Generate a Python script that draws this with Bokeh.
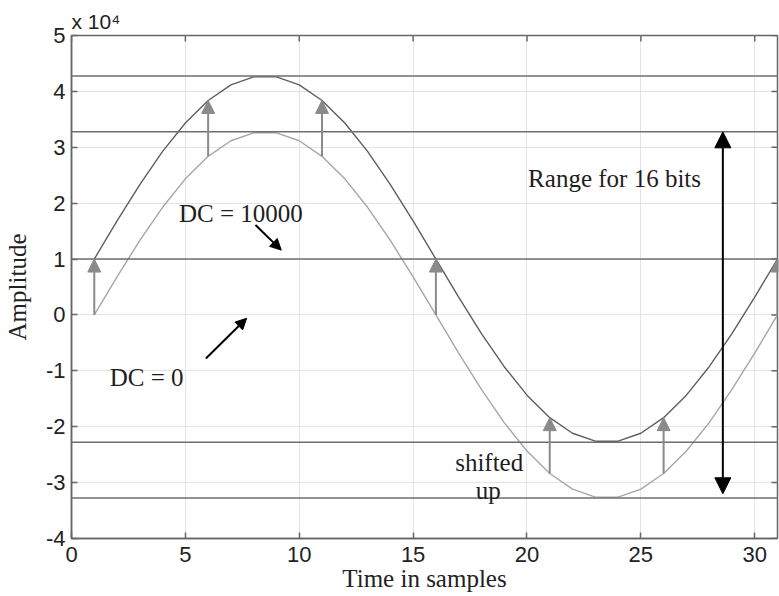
import math
from bokeh.plotting import figure
from bokeh.models import (Range1d, Span, Arrow, NormalHead, Label, FixedTicker,
                          ColumnDataSource)
from bokeh.embed import file_html
from bokeh.resources import INLINE

# ---------------- data ----------------
samples = list(range(1, 32))
dc0 = [0, 6813, 13328, 19260, 24351, 28377, 31163, 32588, 32588, 31163, 28377,
       24351, 19260, 13328, 6813, 0, -6813, -13328, -19260, -24351, -28377,
       -31163, -32588, -32588, -31163, -28377, -24351, -19260, -13328, -6813, 0]
dc10000 = [10000, 16813, 23328, 29260, 34351, 38377, 41163, 42588, 42588, 41163,
           38377, 34351, 29260, 23328, 16813, 10000, 3187, -3328, -9260, -14351,
           -18377, -21163, -22588, -22588, -21163, -18377, -14351, -9260, -3328,
           3187, 10000]
levels = [42767, 32767, 10000, -22768, -32768]
shift_x = [1, 6, 11, 16, 21, 26, 31]
shift_from = [0, 28377, 28377, 0, -28377, -28377, 0]
shift_to = [10000, 38377, 38377, 10000, -18377, -18377, 10000]
x_ticks = [0, 5, 10, 15, 20, 25, 30]
y_ticks = [-40000, -30000, -20000, -10000, 0, 10000, 20000, 30000, 40000, 50000]
y_tick_labels = ["-4", "-3", "-2", "-1", "0", "1", "2", "3", "4", "5"]
x_lo, x_hi = 0, 31
y_lo, y_hi = -40000, 50000

SERIF = "Liberation Serif"
SANS = "Liberation Sans"

p = figure(width=779, height=596, x_range=Range1d(x_lo, x_hi),
           y_range=Range1d(y_lo, y_hi), output_backend="svg",
           toolbar_location=None, min_border_left=67, min_border_right=2,
           min_border_top=35, min_border_bottom=58)
p.background_fill_color = "white"
p.border_fill_color = "white"
p.outline_line_color = "#666666"
p.outline_line_width = 1.5

# title used as the exponent marker
p.title.text = "x 10\u2074"
p.title.text_font = SANS
p.title.text_font_size = "21px"
p.title.text_font_style = "normal"
p.title.text_color = "#222222"
p.title.align = "left"
p.title.offset = 0
p.title.standoff = 5

# axes
for ax in (p.xaxis[0], p.yaxis[0]):
    ax.major_tick_in = 6
    ax.major_tick_out = 0
    ax.minor_tick_line_color = None
    ax.axis_line_color = "#666666"
    ax.axis_line_width = 1.5
    ax.major_tick_line_color = "#666666"
    ax.major_tick_line_width = 1.5
    ax.major_label_text_font = SANS
    ax.major_label_text_font_size = "22px"
    ax.major_label_text_color = "#222222"
    ax.axis_label_text_font = SERIF
    ax.axis_label_text_font_size = "25px"
    ax.axis_label_text_font_style = "normal"
    ax.axis_label_text_color = "#222222"

p.xaxis.ticker = FixedTicker(ticks=x_ticks)
p.yaxis.ticker = FixedTicker(ticks=y_ticks)
p.yaxis.major_label_overrides = {t: l for t, l in zip(y_ticks, y_tick_labels)}
p.xaxis.axis_label = "Time in samples"
p.yaxis.axis_label = "Amplitude"
p.xaxis.major_label_standoff = 8
p.xaxis.axis_label_standoff = 0
p.yaxis.major_label_standoff = 6
p.yaxis.axis_label_standoff = 12

# inward ticks on the top and right edges of the box (half clipped by frame)
p.scatter(x_ticks, [y_hi] * len(x_ticks), marker="dash", size=12,
          angle=math.pi / 2, line_color="#666666", line_width=1.5)
p.scatter([x_hi] * len(y_ticks), y_ticks, marker="dash", size=12,
          line_color="#666666", line_width=1.5)

# grid
p.xgrid.ticker = FixedTicker(ticks=x_ticks)
p.ygrid.ticker = FixedTicker(ticks=y_ticks)
p.grid.grid_line_color = "#e4e4e4"
p.grid.grid_line_width = 1

# horizontal reference levels
for lv in levels:
    p.add_layout(Span(location=lv, dimension="width", line_color="#6e6e6e",
                      line_width=1.5))

# curves
p.line(samples, dc0, line_color="#a6a6a6", line_width=1.4)
p.line(samples, dc10000, line_color="#5e5e5e", line_width=1.4)

# gray shift arrows
src = ColumnDataSource(dict(x=shift_x, y0=shift_from, y1=shift_to))
p.add_layout(Arrow(end=NormalHead(size=13, fill_color="#8a8a8a", line_color="#8a8a8a"),
                   x_start="x", y_start="y0", x_end="x", y_end="y1", source=src,
                   line_color="#8a8a8a", line_width=2))

# range arrow
p.add_layout(Arrow(start=NormalHead(size=16, fill_color="black", line_color="black"),
                   end=NormalHead(size=16, fill_color="black", line_color="black"),
                   x_start=28.6, y_start=-32000, x_end=28.6, y_end=32767,
                   line_color="black", line_width=2))

# DC pointer arrows
p.add_layout(Arrow(end=NormalHead(size=11, fill_color="black", line_color="black"),
                   x_start=8.08, y_start=16100, x_end=9.21, y_end=11600,
                   line_color="black", line_width=2))
p.add_layout(Arrow(end=NormalHead(size=11, fill_color="black", line_color="black"),
                   x_start=5.9, y_start=-7800, x_end=7.69, y_end=-600,
                   line_color="black", line_width=2))

# text annotations
notes = [("Range for 16 bits", 20.05, 24440, "left"),
         ("DC = 10000", 4.72, 18150, "left"),
         ("DC = 0", 1.68, -11170, "left"),
         ("shifted", 18.34, -26330, "center"),
         ("up", 18.3, -31370, "center")]
for t, x, y, al in notes:
    p.add_layout(Label(x=x, y=y, text=t, text_font=SERIF, text_font_size="25px",
                       text_color="#1e1e1e", text_align=al,
                       text_baseline="alphabetic"))

open("out.html", "w").write(file_html(p, INLINE))
